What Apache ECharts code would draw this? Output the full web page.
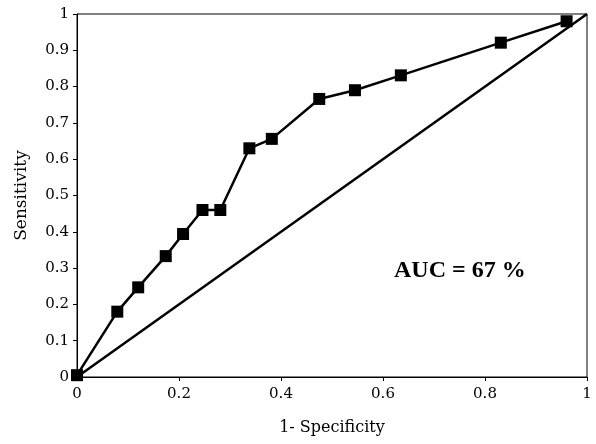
<!DOCTYPE html>
<html>
<head>
<meta charset="utf-8">
<script src="https://cdn.jsdelivr.net/npm/echarts@6/dist/echarts.min.js"></script>
<style>html,body{margin:0;padding:0;background:#fff}#c{width:596px;height:444px}</style>
</head>
<body>
<div id="c"></div>
<script>
var fpr = [0, 0.079, 0.12, 0.174, 0.208, 0.246, 0.281, 0.338, 0.382, 0.475, 0.545, 0.635, 0.831, 0.96];
var tpr = [0.005, 0.18, 0.247, 0.333, 0.394, 0.46, 0.46, 0.63, 0.656, 0.766, 0.79, 0.831, 0.921, 0.98];
var diagX = [0, 1];
var diagY = [0, 1];
var xTicks = [0, 0.2, 0.4, 0.6, 0.8, 1];
var yTicks = [0, 0.1, 0.2, 0.3, 0.4, 0.5, 0.6, 0.7, 0.8, 0.9, 1];
var aucLabel = 'AUC = 67 %';
var xName = '1- Specificity';
var yName = 'Sensitivity';

var font = 'Palatino Linotype, "DejaVu Serif", "Liberation Serif", serif';
var chart = echarts.init(document.getElementById('c'));
chart.setOption({
  animation: false,
  backgroundColor: '#fff',
  grid: {left: 77, right: 9, top: 14, bottom: 67, show: true, borderColor: '#000', borderWidth: 1},
  xAxis: {
    type: 'value', min: 0, max: 1, interval: 0.2,
    name: xName, nameLocation: 'middle', nameGap: 43,
    nameTextStyle: {fontFamily: font, fontSize: 16, color: '#000'},
    axisLine: {lineStyle: {color: '#000', width: 1}},
    axisTick: {inside: false, length: 4, lineStyle: {color: '#000'}},
    axisLabel: {fontFamily: font, fontSize: 15, color: '#000', margin: 10,
      formatter: function (v) { return xTicks.indexOf(v) >= 0 ? String(v) : ''; }},
    splitLine: {show: false}
  },
  yAxis: {
    type: 'value', min: 0, max: 1, interval: 0.1,
    name: yName, nameLocation: 'middle', nameGap: 47, nameRotate: 90,
    nameTextStyle: {fontFamily: font, fontSize: 17, color: '#000'},
    axisLine: {show: true, lineStyle: {color: '#000', width: 1}},
    axisTick: {show: true, length: 4, lineStyle: {color: '#000'}},
    axisLabel: {fontFamily: font, fontSize: 15, color: '#000', margin: 8,
      formatter: function (v) { var r = Math.round(v * 10) / 10; return yTicks.indexOf(r) >= 0 ? String(r) : ''; }},
    splitLine: {show: false}
  },
  graphic: [{
    type: 'text', left: 394, top: 259,
    style: {text: aucLabel, font: 'bold 24px "Liberation Serif", "Times New Roman", serif', fill: '#000'}
  }],
  series: [
    {
      type: 'line', data: diagX.map(function (x, i) { return [x, diagY[i]]; }),
      showSymbol: false, lineStyle: {color: '#000', width: 2.5}, z: 2
    },
    {
      type: 'line', data: fpr.map(function (x, i) { return [x, tpr[i]]; }),
      symbol: 'rect', symbolSize: 12, itemStyle: {color: '#000'},
      lineStyle: {color: '#000', width: 2.5}, z: 3
    }
  ]
});
</script>
</body>
</html>
